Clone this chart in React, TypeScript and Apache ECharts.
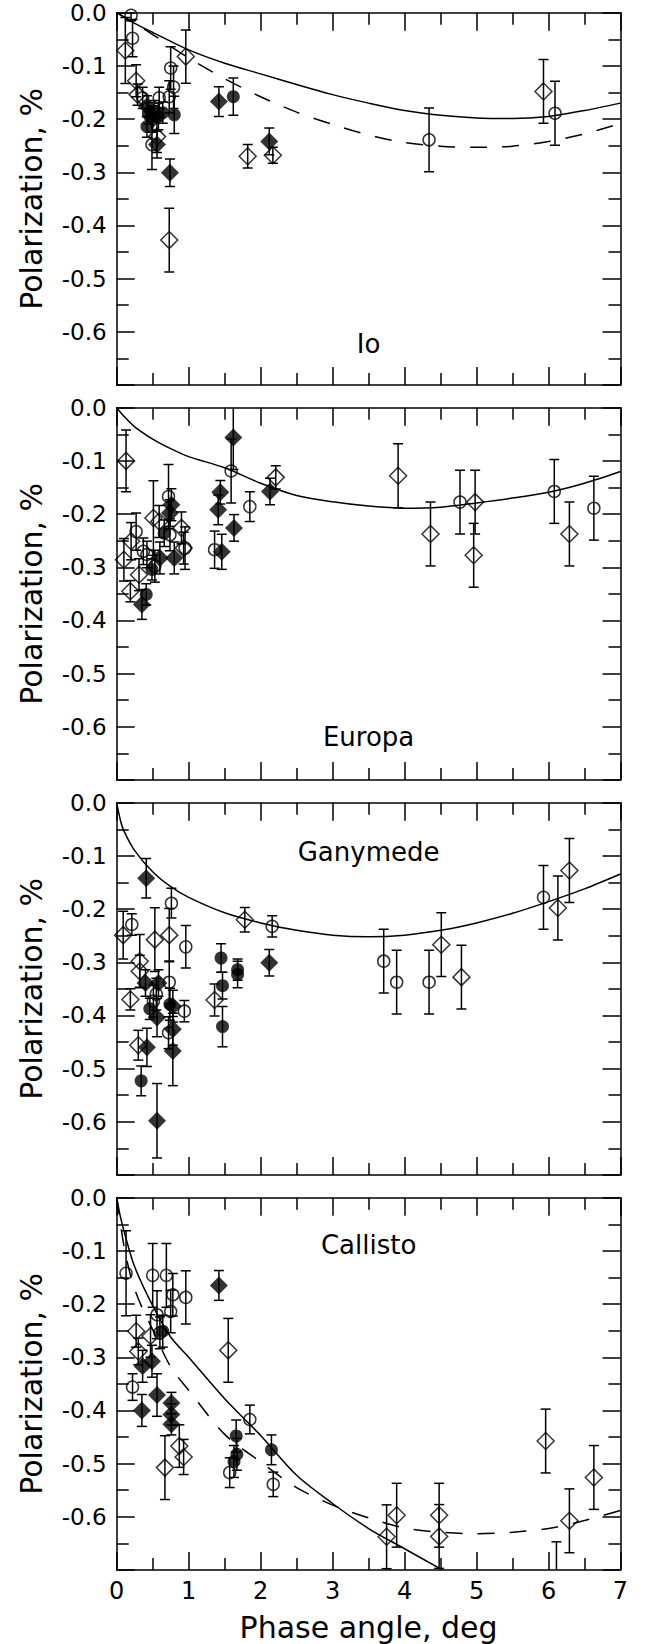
import React, { useEffect, useRef } from "react";
import * as echarts from "echarts";

// ---------- DATA: [phase angle (deg), polarization (%), error (%)] ----------
// Io
const ioOpenCircle = [[0.2, -0.005, 0.01], [0.22, -0.048, 0.035], [0.36, -0.16, 0.02], [0.49, -0.248, 0.047], [0.59, -0.16, 0.02], [0.73, -0.158, 0.03], [0.75, -0.104, 0.04], [0.79, -0.14, 0.04], [4.34, -0.239, 0.06], [6.09, -0.189, 0.06]];
const ioOpenDiamond = [[0.12, -0.071, 0.062], [0.27, -0.128, 0.03], [0.29, -0.154, 0.02], [0.56, -0.233, 0.03], [0.73, -0.4275, 0.06], [0.96, -0.0825, 0.05], [1.82, -0.27, 0.022], [2.17, -0.268, 0.015], [5.93, -0.148, 0.06]];
const ioFilledCircle = [[0.42, -0.214, 0.02], [0.44, -0.189, 0.02], [0.52, -0.185, 0.02], [0.58, -0.195, 0.025], [0.64, -0.188, 0.02], [0.8, -0.192, 0.035], [1.62, -0.158, 0.035]];
const ioFilledDiamond = [[0.42, -0.176, 0.02], [0.5, -0.2, 0.025], [0.56, -0.248, 0.025], [0.74, -0.301, 0.026], [1.42, -0.167, 0.028], [2.12, -0.242, 0.025]];
const ioFit = [[0, 0], [0.25, -0.02], [0.5, -0.037], [1, -0.07], [1.5, -0.095], [2, -0.115], [2.5, -0.135], [3, -0.154], [3.5, -0.17], [4, -0.184], [4.5, -0.193], [5, -0.198], [5.5, -0.199], [6, -0.195], [6.5, -0.184], [7, -0.17]];
const ioFitDashed = [[0, 0], [0.25, -0.02], [0.5, -0.041], [1, -0.085], [1.5, -0.124], [2, -0.158], [2.5, -0.187], [3, -0.21], [3.5, -0.23], [4, -0.244], [4.5, -0.251], [5, -0.253], [5.5, -0.251], [6, -0.242], [6.5, -0.228], [7, -0.208]];

// Europa
const europaOpenCircle = [[0.27, -0.233, 0.035], [0.37, -0.27, 0.025], [0.42, -0.276, 0.025], [0.53, -0.298, 0.03], [0.72, -0.167, 0.06], [0.74, -0.239, 0.03], [0.95, -0.264, 0.04], [1.36, -0.267, 0.035], [1.59, -0.119, 0.06], [1.85, -0.186, 0.028], [4.77, -0.1775, 0.06], [6.08, -0.1575, 0.06], [6.63, -0.189, 0.06]];
const europaOpenDiamond = [[0.13, -0.1, 0.058], [0.2, -0.251, 0.035], [0.1, -0.286, 0.04], [0.19, -0.345, 0.02], [0.31, -0.314, 0.03], [0.51, -0.2075, 0.07], [0.59, -0.214, 0.03], [0.9, -0.226, 0.03], [0.93, -0.264, 0.03], [2.21, -0.131, 0.022], [3.91, -0.128, 0.06], [4.36, -0.2375, 0.06], [4.98, -0.1775, 0.06], [4.96, -0.2775, 0.06], [6.29, -0.2375, 0.06]];
const europaFilledCircle = [[0.41, -0.351, 0.02], [0.49, -0.304, 0.02], [0.66, -0.236, 0.025]];
const europaFilledDiamond = [[0.35, -0.37, 0.028], [0.6, -0.2825, 0.03], [0.74, -0.198, 0.025], [0.76, -0.1825, 0.03], [0.8, -0.2825, 0.03], [1.41, -0.192, 0.028], [1.44, -0.159, 0.022], [1.46, -0.271, 0.033], [1.62, -0.056, 0.06], [1.63, -0.226, 0.025], [2.13, -0.1575, 0.025]];
const europaFit = [[0, 0], [0.1, -0.016], [0.25, -0.036], [0.5, -0.059], [0.75, -0.077], [1, -0.092], [1.5, -0.113], [2, -0.142], [2.5, -0.165], [3, -0.177], [3.5, -0.185], [4, -0.189], [4.5, -0.187], [5, -0.179], [5.5, -0.17], [6, -0.159], [6.5, -0.142], [7, -0.12]];

// Ganymede
const ganymedeOpenCircle = [[0.21, -0.229, 0.02], [0.51, -0.373, 0.03], [0.55, -0.36, 0.03], [0.73, -0.3375, 0.04], [0.72, -0.4325, 0.03], [0.76, -0.189, 0.028], [0.96, -0.271, 0.04], [0.94, -0.392, 0.02], [2.16, -0.2325, 0.02], [3.71, -0.298, 0.06], [3.89, -0.3375, 0.06], [4.34, -0.3375, 0.06], [5.93, -0.178, 0.06]];
const ganymedeOpenDiamond = [[0.09, -0.249, 0.045], [0.19, -0.37, 0.02], [0.3, -0.456, 0.028], [0.32, -0.298, 0.05], [0.32, -0.317, 0.03], [0.53, -0.2575, 0.06], [0.73, -0.249, 0.05], [1.36, -0.371, 0.03], [1.78, -0.22, 0.023], [4.51, -0.267, 0.06], [4.79, -0.328, 0.06], [6.13, -0.198, 0.06], [6.29, -0.1275, 0.06]];
const ganymedeFilledCircle = [[0.34, -0.523, 0.028], [0.46, -0.3875, 0.02], [0.74, -0.379, 0.03], [1.45, -0.292, 0.027], [1.47, -0.344, 0.025], [1.47, -0.421, 0.038], [1.68, -0.314, 0.02], [1.68, -0.323, 0.025]];
const ganymedeFilledDiamond = [[0.41, -0.142, 0.037], [0.4, -0.339, 0.025], [0.42, -0.46, 0.036], [0.56, -0.404, 0.036], [0.56, -0.598, 0.07], [0.58, -0.339, 0.025], [0.78, -0.3825, 0.03], [0.78, -0.426, 0.03], [0.78, -0.467, 0.065], [2.12, -0.301, 0.025]];
const ganymedeFit = [[0, 0], [0.05, -0.032], [0.1, -0.053], [0.25, -0.09], [0.5, -0.13], [0.75, -0.158], [1, -0.178], [1.5, -0.207], [2, -0.226], [2.5, -0.24], [3, -0.249], [3.5, -0.252], [4, -0.249], [4.5, -0.24], [5, -0.226], [5.5, -0.208], [6, -0.186], [6.5, -0.162], [7, -0.134]];

// Callisto
const callistoOpenCircle = [[0.13, -0.142, 0.08], [0.22, -0.356, 0.025], [0.5, -0.146, 0.06], [0.56, -0.22, 0.045], [0.6, -0.254, 0.03], [0.69, -0.146, 0.06], [0.75, -0.214, 0.04], [0.78, -0.1825, 0.04], [0.96, -0.1875, 0.05], [1.57, -0.517, 0.028], [1.85, -0.417, 0.027], [2.175, -0.539, 0.023], [6.11, -0.707, 0.06]];
const callistoOpenDiamond = [[0.27, -0.251, 0.03], [0.3, -0.289, 0.025], [0.47, -0.26, 0.04], [0.67, -0.5075, 0.06], [0.87, -0.467, 0.04], [0.93, -0.4875, 0.033], [1.55, -0.287, 0.06], [3.75, -0.6375, 0.06], [3.89, -0.597, 0.06], [4.48, -0.597, 0.06], [4.48, -0.637, 0.06], [5.96, -0.4575, 0.06], [6.29, -0.6075, 0.06], [6.63, -0.526, 0.06]];
const callistoFilledCircle = [[0.64, -0.251, 0.03], [1.63, -0.496, 0.03], [1.66, -0.448, 0.03], [1.67, -0.4825, 0.03], [2.15, -0.474, 0.028]];
const callistoFilledDiamond = [[0.35, -0.4, 0.03], [0.36, -0.317, 0.03], [0.49, -0.3075, 0.03], [0.56, -0.371, 0.04], [0.76, -0.386, 0.02], [0.76, -0.4075, 0.02], [0.76, -0.426, 0.02], [1.42, -0.165, 0.028]];
const callistoFit = [[0, 0], [0.05, -0.035], [0.12, -0.072], [0.25, -0.13], [0.5, -0.203], [0.75, -0.262], [1, -0.3], [1.5, -0.378], [2, -0.447], [2.5, -0.522], [3, -0.575], [3.5, -0.622], [4, -0.66], [4.5, -0.698]];
const callistoFitDashed = [[0, 0], [0.1, -0.09], [0.2, -0.15], [0.3, -0.19], [0.5, -0.248], [0.75, -0.318], [1, -0.362], [1.5, -0.445], [2, -0.497], [2.5, -0.545], [3, -0.578], [3.5, -0.602], [4, -0.621], [4.5, -0.629], [5, -0.632], [5.5, -0.629], [6, -0.622], [6.5, -0.607], [7, -0.588]];

const panelNames = ["Io", "Europa", "Ganymede", "Callisto"];
const xTicks = [0, 7, 1]; // min, max, interval
const yTicks = [-0.7, 0, 0.1];
const xTitle = "Phase angle, deg";
const yTitle = "Polarization, %";

const panels = [
  { name: panelNames[0], oc: ioOpenCircle, od: ioOpenDiamond, fc: ioFilledCircle, fd: ioFilledDiamond, fit: ioFit, dashed: ioFitDashed },
  { name: panelNames[1], oc: europaOpenCircle, od: europaOpenDiamond, fc: europaFilledCircle, fd: europaFilledDiamond, fit: europaFit, dashed: null },
  { name: panelNames[2], oc: ganymedeOpenCircle, od: ganymedeOpenDiamond, fc: ganymedeFilledCircle, fd: ganymedeFilledDiamond, fit: ganymedeFit, dashed: null },
  { name: panelNames[3], oc: callistoOpenCircle, od: callistoOpenDiamond, fc: callistoFilledCircle, fd: callistoFilledDiamond, fit: callistoFit, dashed: callistoFitDashed },
];

const FONT = "DejaVu Sans";
const GRID_LEFT = 116.7;
const GRID_WIDTH = 503.8;
const GRID_TOPS = [12.7, 407.7, 802.7, 1197.7];
const GRID_HEIGHT = 372.3;
const LINE_W = 1.5;

function buildOption() {
  const grid: any[] = [];
  const xAxis: any[] = [];
  const yAxis: any[] = [];
  const series: any[] = [];
  const graphic: any[] = [];

  const tickStyle = { color: "#000", width: LINE_W };
  const baseAxis = {
    axisLine: { show: true, onZero: false, lineStyle: { color: "#000", width: LINE_W } },
    splitLine: { show: false },
    axisTick: { show: true, inside: true, length: 18, lineStyle: tickStyle },
    minorTick: { show: true, splitNumber: 2, length: 12, lineStyle: tickStyle },
    minorSplitLine: { show: false },
  };

  panels.forEach((p, i) => {
    const isLast = i === panels.length - 1;
    grid.push({ left: GRID_LEFT, width: GRID_WIDTH, top: GRID_TOPS[i], height: GRID_HEIGHT, containLabel: false });
    const xBase = { ...baseAxis, type: "value", gridIndex: i, min: xTicks[0], max: xTicks[1], interval: xTicks[2] };
    xAxis.push({
      ...xBase,
      position: "bottom",
      axisLabel: {
        show: isLast,
        margin: 9,
        fontSize: 24,
        fontFamily: FONT,
        color: "#000",
        formatter: (v: number) => String(Math.round(v)),
      },
      name: isLast ? xTitle : "",
      nameLocation: "middle",
      nameGap: 42,
      nameTextStyle: { fontSize: 30, fontFamily: FONT, color: "#000" },
    });
    xAxis.push({ ...xBase, position: "top", axisLabel: { show: false } });
    const yBase = { ...baseAxis, type: "value", gridIndex: i, min: yTicks[0], max: yTicks[1], interval: yTicks[2] };
    yAxis.push({
      ...yBase,
      position: "left",
      axisLabel: {
        show: true,
        margin: 10,
        fontSize: 23,
        fontFamily: FONT,
        color: "#000",
        formatter: (v: number) => {
          if (Math.abs(v - yTicks[0]) < 1e-6) return "";
          if (Math.abs(v) < 1e-9) return "0.0";
          return v.toFixed(1);
        },
      },
      name: yTitle,
      nameLocation: "middle",
      nameGap: 70,
      nameTextStyle: { fontSize: 30, fontFamily: FONT, color: "#000" },
    });
    yAxis.push({ ...yBase, position: "right", axisLabel: { show: false } });

    const xi = 2 * i;
    const yi = 2 * i;

    series.push({
      type: "line",
      xAxisIndex: xi,
      yAxisIndex: yi,
      data: p.fit,
      showSymbol: false,
      smooth: 0.3,
      clip: true,
      silent: true,
      lineStyle: { color: "#000", width: LINE_W },
      z: 2,
    });
    if (p.dashed) {
      series.push({
        type: "line",
        xAxisIndex: xi,
        yAxisIndex: yi,
        data: p.dashed,
        showSymbol: false,
        smooth: 0.3,
        clip: true,
        silent: true,
        lineStyle: { color: "#000", width: LINE_W, type: [17, 15] },
        z: 2,
      });
    }

    const allPts = [...p.oc, ...p.od, ...p.fc, ...p.fd];
    series.push({
      type: "custom",
      xAxisIndex: xi,
      yAxisIndex: yi,
      data: allPts,
      clip: true,
      silent: true,
      encode: { x: 0, y: 1 },
      z: 3,
      renderItem: (params: any, api: any) => {
        const x = api.value(0);
        const y = api.value(1);
        const e = api.value(2);
        const hi = api.coord([x, y + e]);
        const lo = api.coord([x, y - e]);
        const w = 5;
        const st = { stroke: "#000", lineWidth: LINE_W };
        return {
          type: "group",
          children: [
            { type: "line", shape: { x1: hi[0], y1: hi[1], x2: lo[0], y2: lo[1] }, style: st },
            { type: "line", shape: { x1: hi[0] - w, y1: hi[1], x2: hi[0] + w, y2: hi[1] }, style: st },
            { type: "line", shape: { x1: lo[0] - w, y1: lo[1], x2: lo[0] + w, y2: lo[1] }, style: st },
          ],
        };
      },
    });

    const mk = (data: number[][], symbol: string, size: number, filled: boolean) => ({
      type: "scatter",
      xAxisIndex: xi,
      yAxisIndex: yi,
      data,
      symbol,
      symbolSize: size,
      clip: true,
      silent: true,
      z: 4,
      itemStyle: filled
        ? { color: "#000", borderColor: "#000", borderWidth: 0 }
        : { color: "rgba(0,0,0,0)", borderColor: "#000", borderWidth: LINE_W },
    });
    series.push(mk(p.oc, "circle", 12, false));
    series.push(mk(p.od, "diamond", 17, false));
    series.push(mk(p.fc, "circle", 13, true));
    series.push(mk(p.fd, "diamond", 18, true));

    graphic.push({
      type: "text",
      x: GRID_LEFT + GRID_WIDTH / 2 + 0.5 * (GRID_WIDTH / 7) * 0 + (3.5 * GRID_WIDTH) / 7 - GRID_WIDTH / 2,
      y: [344, 737, 852, 1245][i],
      style: {
        text: p.name,
        fontSize: 26,
        fontFamily: FONT,
        fill: "#000",
        align: "center",
        verticalAlign: "middle",
        textAlign: "center",
        textVerticalAlign: "middle",
      },
      silent: true,
    });
  });

  return { animation: false, backgroundColor: "#fff", grid, xAxis, yAxis, series, graphic };
}

export default function App() {
  const ref = useRef<HTMLDivElement>(null);
  useEffect(() => {
    if (!ref.current) return;
    const chart = echarts.init(ref.current, undefined, { renderer: "svg" });
    chart.setOption(buildOption() as any);
    return () => chart.dispose();
  }, []);
  return (
    <div
      ref={ref}
      style={{ position: "fixed", left: 0, top: 0, width: 649, height: 1644, background: "#fff" }}
    />
  );
}
